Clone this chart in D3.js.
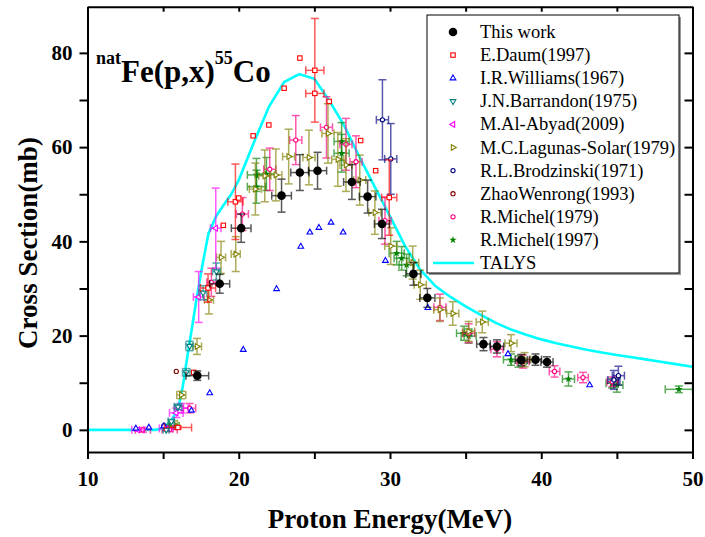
<!DOCTYPE html>
<html><head><meta charset="utf-8">
<script src="https://d3js.org/d3.v7.min.js"></script>
<style>body{margin:0;background:#fff}svg{display:block}</style>
</head><body><svg id="c" width="705" height="537"></svg>
<script>
// ---- data: [E (MeV), sigma (mb), dE, dSigma] ----
const thisWork = [
 [17.26,11.5,0.75,1.0],[18.74,31.0,0.66,2.0],[20.16,42.8,0.65,3.0],[22.83,49.7,0.65,3.5],
 [24.04,54.6,0.6,3.8],[25.21,55.0,0.6,3.9],[27.48,52.6,0.55,3.7],[28.52,49.5,0.55,3.5],
 [29.47,43.7,0.5,3.1],[31.55,33.1,0.5,2.4],[32.47,28.0,0.5,2.0],[36.18,18.2,0.45,1.4],
 [37.07,17.7,0.45,1.4],[38.68,14.8,0.4,1.2],[39.62,14.9,0.4,1.2],[40.38,14.4,0.4,1.1]];
const daum1997 = [
 [15.98,0.5,0.9,0.3],[17.02,12.2,0,0],[17.97,30.1,0.5,3],[18.98,43.4,0,0],[19.78,48.4,0.5,8],
 [20.0,49.2,0,0],[20.95,62.4,0,0],[21.99,64.7,0,0],[23.0,72.5,0,0],[24.04,78.9,0,0],
 [25.03,76.3,0.6,11],[25.03,71.4,0.6,0],[25.98,69.7,0,0],[28.06,61.4,0,0],[29.05,55.0,0,0],
 [29.95,49.3,0.5,8]];
const williams1967 = [
 [13.2,0.3],[14.06,0.5],[15.05,0.8],[16.87,4.1],[18.08,7.8],[20.3,17.0],[22.5,29.9],
 [24.1,38.9],[24.7,41.9],[25.3,42.9],[26.1,44.0],[26.9,41.9],[29.7,35.9],[32.5,25.9],
 [37.8,16.1],[43.2,9.5]];
const barrandon1975 = [
 [15.2,0.0,0.2,0.3],[15.54,1.8,0.2,0.4],[15.98,4.9,0.25,0.6],[16.53,12.2,0.25,0.8],
 [16.75,17.8,0.25,1.0],[17.64,29.1,0.25,1.5],[18.52,33.6,0.25,1.8]];
const alAbyad2009 = [
 [13.33,0.0,0.4,0.3],[15.2,0.3,0.45,0.4],[15.87,3.6,0.45,1.0],[16.2,4.6,0.45,1.0],
 [17.35,28.2,0.35,5.4],[18.48,42.8,0.35,8.5]];
const lagunas1979 = [
 [15.65,1.3,0.3,0.6],[16.2,7.4,0.3,0.8],[17.24,17.7,0.3,1.7],[18.03,27.6,0.3,3.0],
 [18.83,36.6,0.3,3.4],[19.8,37.3,0.3,3.7],[21.1,51.1,0.4,5.5],[21.72,53.9,0.4,5.5],
 [22.45,54.1,0.4,5.5],[23.3,58.0,0.4,5.8],[24.64,57.8,0.4,5.8],[25.9,62.9,0.4,6.3],
 [26.55,57.4,0.4,5.7],[27.09,56.2,0.4,5.6],[28.0,53.0,0.4,5.3],[29.0,46.1,0.4,4.6],
 [30.05,39.0,0.4,3.9],[31.5,35.5,0.4,3.5],[32.0,30.8,0.4,3.1],[33.3,25.5,0.4,2.5],
 [34.15,24.7,0.4,2.5],[35.2,20.9,0.4,2.1],[36.1,22.9,0.4,2.3],[38.0,18.4,0.4,1.8],
 [38.9,14.9,0.4,1.5]];
const brodzinski1971 = [
 [15.05,0.9,0,0],[29.5,65.8,0.4,8.5],[30.05,57.5,0.4,7.5],[44.8,10.6,0.4,2.0],[45.1,11.5,0.4,2.0]];
const zhao1993 = [[15.87,12.4,0,0],[17.97,30.3,0,0]];
const michel1979 = [
 [13.66,0.0,0.5,0.5],[15.43,0.1,0.5,0.5],[16.75,4.6,0.4,1.0],[18.19,31.3,0.3,3.0],
 [20.24,45.8,0.4,3.5],[22.05,55.3,0.4,4.5],[23.77,61.5,0.4,5.2],[25.8,64.2,0.4,6.5],
 [27.09,60.6,0.4,5.5],[27.75,56.9,0.4,5.5],[29.67,44.4,0.4,5.0],[33.3,26.0,0.4,2.8],
 [35.2,20.5,0.4,2.0],[37.07,17.1,0.4,1.6],[38.8,14.5,0.4,1.4],[40.88,12.4,0.35,1.2],
 [42.76,11.1,0.35,1.1],[44.7,10.2,0.35,1.0]];
const michel1997 = [
 [15.4,0.7,0.3,0.3],[15.76,0.8,0.3,0.3],[21.17,54.1,0.6,3.5],[21.17,51.6,0.6,3.5],
 [21.83,54.3,0.6,3.5],[26.8,61.2,0.5,4.0],[26.8,58.7,0.5,4.0],[30.44,37.5,0.5,2.5],
 [30.77,36.4,0.5,2.5],[31.1,35.0,0.5,2.3],[34.9,20.5,0.5,1.5],[35.2,19.9,0.5,1.5],
 [38.0,14.9,0.5,1.2],[38.5,14.5,0.5,1.2],[41.8,10.8,0.4,1.5],[44.68,9.9,0.4,1.0],
 [45.0,9.5,0.4,1.5],[49.1,8.6,0.9,0.7]];
const talysE  = [10,11,12,13,14,14.5,15,15.5,16,16.3,16.6,16.9,17.2,17.6,18,18.5,19,19.5,20,21,22,23,24,25,26,27,28,29,30,31,32,33,34,35,36,37,38,39,40,41,42,43,44,45,46,47,48,49,50];
const talysCS = [0,0,0,0,0,0,0.4,1.8,4.5,9.2,15.5,21.5,27.6,35,41.7,45.3,47.7,50,53,61,68.6,73.8,75.5,74.5,69.8,64.4,57.8,51.5,45.3,39,34,30.5,28.2,26.2,24.4,22.7,21.3,20.2,19.2,18.4,17.7,17.0,16.4,15.9,15.4,14.9,14.4,13.9,13.4];
const xTicks = [10,15,20,25,30,35,40,45,50];
const yTicks = [0,10,20,30,40,50,60,70,80];

const svg = d3.select("#c");
const x = d3.scaleLinear().domain([10,50]).range([87.5,692.5]);
const y = d3.scaleLinear().domain([-4.7,89.8]).range([452,6.7]);
const FONT = "'Times New Roman','Liberation Serif',Tinos,serif";

const series = [
 {name:"This work", data:thisWork, sym:"dot", color:"#000000", bar:"#000000"},
 {name:"E.Daum(1997)", data:daum1997, sym:"square", color:"#ff0000", bar:"#ff0000"},
 {name:"I.R.Williams(1967)", data:williams1967, sym:"triUp", color:"#0000ff", bar:"#0000ff"},
 {name:"J.N.Barrandon(1975)", data:barrandon1975, sym:"triDown", color:"#008080", bar:"#008080"},
 {name:"M.Al-Abyad(2009)", data:alAbyad2009, sym:"triLeft", color:"#ff00ff", bar:"#ff00ff"},
 {name:"M.C.Lagunas-Solar(1979)", data:lagunas1979, sym:"triRight", color:"#808000", bar:"#808000"},
 {name:"R.L.Brodzinski(1971)", data:brodzinski1971, sym:"circle", color:"#000080", bar:"#000080"},
 {name:"ZhaoWenrong(1993)", data:zhao1993, sym:"circle", color:"#800000", bar:"#800000"},
 {name:"R.Michel(1979)", data:michel1979, sym:"circle", color:"#ff0080", bar:"#ff0080"},
 {name:"R.Michel(1997)", data:michel1997, sym:"star", color:"#008000", bar:"#008000"}
];

function drawSym(g, sym, color) {
  if (sym==="dot") { g.append("circle").attr("r",4.3).attr("fill",color); return; }
  if (sym==="circle") { g.append("circle").attr("r",2.1).attr("fill","#fff").attr("stroke",color).attr("stroke-width",1.1); return; }
  if (sym==="square") { g.append("rect").attr("x",-2.2).attr("y",-2.2).attr("width",4.4).attr("height",4.4).attr("fill","#fff").attr("stroke",color).attr("stroke-width",1.1); return; }
  if (sym==="star") { g.append("path").attr("d",d3.symbol(d3.symbolStar,18)()).attr("fill",color); return; }
  const rot = {triUp:0, triDown:180, triLeft:-90, triRight:90}[sym];
  g.append("path").attr("d",d3.symbol(d3.symbolTriangle,14)()).attr("transform",`rotate(${rot})`)
   .attr("fill","#fff").attr("stroke",color).attr("stroke-width",1.1);
}

// TALYS curve
svg.append("path").datum(talysE.map((e,i)=>[e,talysCS[i]]))
  .attr("d", d3.line().x(d=>x(d[0])).y(d=>y(d[1])))
  .attr("fill","none").attr("stroke","#00ffff").attr("stroke-width",2.6);

// data series (draw last series first so "This work" ends on top)
const cap = 4;
series.slice().reverse().forEach(s => {
  const g = svg.append("g");
  s.data.forEach(d => {
    const cx = x(d[0]), cy = y(d[1]);
    const dE = d[2]||0, dS = d[3]||0;
    const eb = g.append("g").attr("stroke", s.bar).attr("stroke-width",1.5).attr("opacity",0.65).attr("fill","none");
    if (dS>0) {
      const y1 = y(d[1]-dS), y2 = y(d[1]+dS);
      eb.append("line").attr("x1",cx).attr("x2",cx).attr("y1",y1).attr("y2",y2);
      eb.append("line").attr("x1",cx-cap).attr("x2",cx+cap).attr("y1",y1).attr("y2",y1);
      eb.append("line").attr("x1",cx-cap).attr("x2",cx+cap).attr("y1",y2).attr("y2",y2);
    }
    if (dE>0) {
      const x1 = x(d[0]-dE), x2 = x(d[0]+dE);
      eb.append("line").attr("x1",x1).attr("x2",x2).attr("y1",cy).attr("y2",cy);
      eb.append("line").attr("x1",x1).attr("x2",x1).attr("y1",cy-cap).attr("y2",cy+cap);
      eb.append("line").attr("x1",x2).attr("x2",x2).attr("y1",cy-cap).attr("y2",cy+cap);
    }
    drawSym(g.append("g").attr("transform",`translate(${cx},${cy})`), s.sym, s.color);
  });
});

// axes
const axStyle = sel => {
  sel.selectAll("path.domain").attr("stroke","#000").attr("stroke-width",2);
  sel.selectAll(".tick line").attr("stroke","#000").attr("stroke-width",2);
  sel.selectAll("text").attr("font-family",FONT).attr("font-weight","bold").attr("font-size",21).attr("fill","#000");
};
svg.append("g").attr("transform",`translate(0,${y(-4.7)})`)
  .call(d3.axisBottom(x).tickValues(xTicks).tickSize(7).tickSizeOuter(0).tickPadding(12)
    .tickFormat(d=> d%10===0 ? d : "")).call(axStyle);
svg.append("g").attr("transform",`translate(0,${y(89.8)})`)
  .call(d3.axisTop(x).tickValues(xTicks).tickSize(-5).tickSizeOuter(0).tickFormat("")).call(axStyle);
svg.append("g").attr("transform",`translate(${x(10)},0)`)
  .call(d3.axisLeft(y).tickValues(yTicks).tickSize(8).tickSizeOuter(0).tickPadding(7)
    .tickFormat(d=> d%20===0 ? d : "")).call(axStyle);
svg.append("g").attr("transform",`translate(${x(50)},0)`)
  .call(d3.axisRight(y).tickValues(yTicks).tickSize(-8).tickSizeOuter(0).tickFormat("")).call(axStyle);

// axis titles
svg.append("text").attr("x",390).attr("y",528).attr("text-anchor","middle")
  .attr("font-family",FONT).attr("font-weight","bold").attr("font-size",27).text("Proton Energy(MeV)");
svg.append("text").attr("transform","translate(37,243) rotate(-90)").attr("text-anchor","middle")
  .attr("font-family",FONT).attr("font-weight","bold").attr("font-size",27).text("Cross Section(mb)");

// reaction title
const t = svg.append("text").attr("x",96).attr("y",82).attr("font-family",FONT).attr("font-weight","bold");
t.append("tspan").attr("font-size",18).attr("dy",-18).text("nat");
t.append("tspan").attr("font-size",31).attr("dy",18).text("Fe(p,x)");
t.append("tspan").attr("font-size",18).attr("dy",-18).text("55");
t.append("tspan").attr("font-size",31).attr("dy",18).text("Co");

// legend
const L = svg.append("g");
L.append("rect").attr("x",429).attr("y",17).attr("width",252).attr("height",258).attr("fill","#999");
L.append("rect").attr("x",427).attr("y",15).attr("width",252).attr("height",258)
  .attr("fill","#fff").attr("stroke","#000").attr("stroke-width",1);
series.forEach((s,i) => {
  const cy = 32 + i*23.1;
  drawSym(L.append("g").attr("transform",`translate(453,${cy})`), s.sym, s.color);
  L.append("text").attr("x",480).attr("y",cy+6).attr("font-family",FONT).attr("font-size",18.5).text(s.name);
});
const ty = 32 + 10*23.1;
L.append("line").attr("x1",433).attr("x2",474).attr("y1",ty).attr("y2",ty).attr("stroke","#00ffff").attr("stroke-width",2.6);
L.append("text").attr("x",480).attr("y",ty+6).attr("font-family",FONT).attr("font-size",18.5).text("TALYS");
</script></body></html>
